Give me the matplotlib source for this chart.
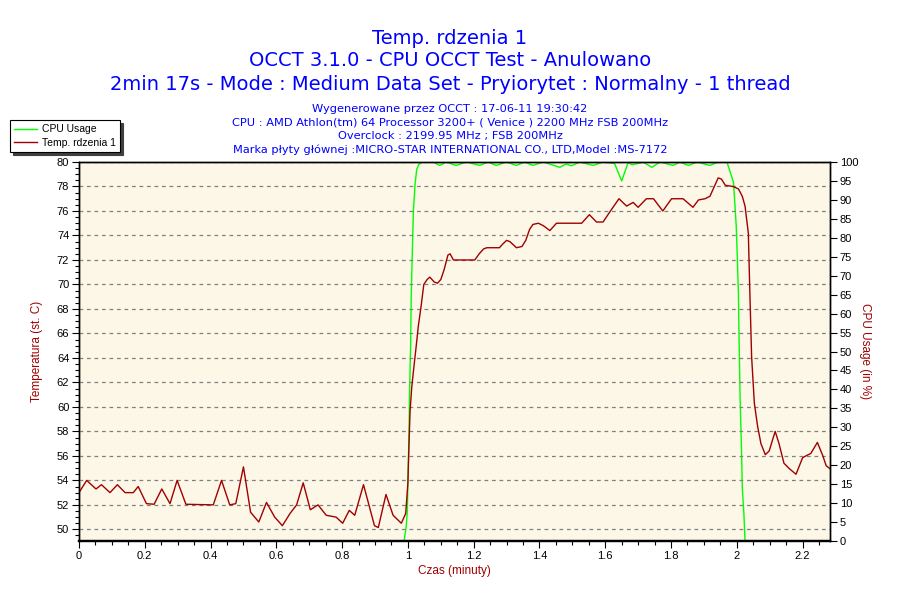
import matplotlib
matplotlib.use("Agg")
import matplotlib.pyplot as plt
from matplotlib.lines import Line2D
from matplotlib.ticker import MultipleLocator
import numpy as np

# temperature of core 1 (time in seconds, value in deg C)
temp_sec = [0.0, 1.4, 3.1, 4.1, 5.65, 7.0, 8.4, 9.9, 10.8, 12.3, 13.7, 15.1, 16.6, 17.9,
            19.5, 24.5, 26.0, 27.5, 28.6, 30.0, 31.3, 32.8, 34.2, 35.7, 37.1, 38.5, 39.7,
            40.9, 42.2, 43.6, 45.1, 46.9, 48.1, 49.3, 50.3, 51.9, 53.9, 54.6, 56.0, 57.3,
            58.8, 59.6, 60.0, 60.2, 60.4, 60.7, 61.1, 61.5, 61.9, 62.4, 62.9, 63.5, 64.0,
            64.8, 65.4, 66.0, 66.6, 67.3, 67.7, 68.3, 72.2, 73.0, 73.8, 74.4, 76.7, 77.3,
            78.0, 78.6, 79.8, 80.8, 81.5, 82.2, 82.8, 83.8, 84.7, 85.9, 87.1, 91.7, 93.1,
            94.4, 95.6, 96.8, 98.5, 99.9, 101.1, 102.0, 103.5, 104.8, 106.5, 108.1, 110.2,
            112.0, 113.0, 114.2, 115.1, 116.6, 117.2, 117.9, 119.3, 120.3, 121.0, 121.5,
            122.1, 122.4, 122.7, 123.2, 123.8, 124.4, 125.2, 125.9, 127.0, 127.7, 128.6,
            129.6, 130.8, 132.0, 132.6, 133.5, 134.7, 135.7, 136.3, 137.0]
temp_val = [53.0, 54.0, 53.3, 53.65, 53.0, 53.65, 53.0, 53.0, 53.5, 52.1, 52.05, 53.3, 52.1, 54.0,
            52.05, 52.0, 54.0, 52.0, 52.1, 55.1, 51.4, 50.6, 52.2, 51.0, 50.3, 51.3, 52.0,
            53.8, 51.6, 52.0, 51.15, 51.0, 50.5, 51.55, 51.15, 53.65, 50.3, 50.15, 52.85, 51.15,
            50.5, 51.3, 53.8, 57.0, 59.7, 61.6, 63.3, 64.9, 66.6, 68.2, 70.0, 70.4, 70.6,
            70.2, 70.1, 70.4, 71.2, 72.4, 72.5, 72.0, 72.0, 72.5, 72.9, 73.0, 73.0, 73.3,
            73.6, 73.5, 73.0, 73.1, 73.6, 74.5, 74.9, 75.0, 74.8, 74.4, 75.0, 75.0, 75.7,
            75.1, 75.1, 75.9, 77.0, 76.4, 76.7, 76.3, 77.0, 77.0, 76.0, 77.0, 77.0,
            76.3, 76.9, 77.0, 77.2, 78.7, 78.6, 78.1, 78.0, 77.8, 77.2, 76.4,
            74.2, 69.0, 64.1, 60.3, 58.4, 57.0, 56.1, 56.4, 58.0, 57.0, 55.4,
            54.95, 54.5, 55.85, 56.0, 56.2, 57.1, 56.0, 55.2, 54.95]

# cpu usage (%)
cpu_sec = [0.0, 59.3, 59.7, 59.9, 60.0, 60.2, 60.3, 60.5, 60.6, 60.8, 61.0, 61.3, 61.6, 62.0,
           62.7, 64.6, 65.8, 67.0, 68.8, 70.7, 73.1, 74.6, 76.1, 78.0, 79.8, 81.3, 82.8,
           84.7, 87.7, 88.9, 89.8, 91.4, 93.8, 95.6, 97.7, 99.0, 100.2, 100.8, 102.0, 102.9,
           104.5, 106.0, 108.4, 109.6, 111.2, 112.7, 115.1, 116.6, 118.2, 119.4, 119.9,
           120.1, 120.3, 120.4, 120.6, 120.85, 121.0, 121.3, 121.5, 137.0]
cpu_val = [0, 0, 4, 8, 16, 28, 39, 52, 64, 76, 87, 94, 98, 99.4,
           100, 100, 99.1, 100, 99.1, 100, 99.1, 100, 99.1, 100, 99.1, 100, 99.1,
           100, 98.6, 99.5, 99.0, 100, 99.1, 100, 99.6, 95.0, 100, 99.3, 99.6, 100,
           98.6, 100, 99.1, 100, 99.1, 100, 99.1, 100, 100, 94.6, 83,
           74.4, 64.8, 54.3, 37.7, 24.5, 14, 7, 0, 0]

title_lines = ["Temp. rdzenia 1",
               "OCCT 3.1.0 - CPU OCCT Test - Anulowano",
               "2min 17s - Mode : Medium Data Set - Pryiorytet : Normalny - 1 thread"]
info_lines = ["Wygenerowane przez OCCT : 17-06-11 19:30:42",
              "CPU : AMD Athlon(tm) 64 Processor 3200+ ( Venice ) 2200 MHz FSB 200MHz",
              "Overclock : 2199.95 MHz ; FSB 200MHz",
              "Marka płyty głównej :MICRO-STAR INTERNATIONAL CO., LTD,Model :MS-7172"]

RED = "#a00000"
GREEN = "#00ff00"
BLUE = "#0000ff"
plt.rcParams["font.family"] = ["Liberation Sans", "DejaVu Sans"]

fig = plt.figure(figsize=(9, 6), dpi=100, facecolor="white")
ax_cpu = fig.add_axes([79 / 900, 59 / 600, 751 / 900, 379 / 600])
ax = ax_cpu.twinx()
# temperature axis goes on the left, cpu on the right
ax.yaxis.tick_left()
ax.yaxis.set_label_position("left")
ax_cpu.yaxis.tick_right()
ax_cpu.yaxis.set_label_position("right")
ax_cpu.set_facecolor("#fdf7e7")

t_min = np.array(temp_sec) / 60
c_min = np.array(cpu_sec) / 60
ax_cpu.plot(c_min, cpu_val, color=GREEN, lw=1.0)
ax.plot(t_min, temp_val, color=RED, lw=1.0)

ax.set_xlim(0, 137 / 60)
ax.set_ylim(49.05, 80)
ax_cpu.set_ylim(0, 100)

ax.xaxis.set_major_locator(MultipleLocator(0.2))
ax.xaxis.set_minor_locator(MultipleLocator(0.05))
ax.yaxis.set_major_locator(MultipleLocator(2))
ax.yaxis.set_minor_locator(MultipleLocator(0.5))
ax_cpu.yaxis.set_major_locator(MultipleLocator(5))
ax_cpu.xaxis.set_major_locator(MultipleLocator(0.2))
ax_cpu.xaxis.set_minor_locator(MultipleLocator(0.05))
ax_cpu.xaxis.set_major_formatter(plt.FuncFormatter(lambda v, p: f"{v:g}"))

ax.grid(True, which="major", color="#808080", linestyle=(0, (3, 3)), lw=0.9)
for a in (ax, ax_cpu):
    a.tick_params(which="major", length=5, width=0.8, labelsize=8, direction="out", pad=2)
    a.tick_params(which="minor", length=3, width=0.8, direction="out")
    for s in a.spines.values():
        s.set_linewidth(1.0)
    # thicker bottom edge hides the idle (0 %) part of the cpu line, as in the original
    a.spines["bottom"].set_linewidth(1.6)
ax.tick_params(axis="x", labelbottom=False)

ax_cpu.set_xlabel("Czas (minuty)", color=RED, fontsize=8.5, labelpad=3)
ax.set_ylabel("Temperatura (st. C)", color=RED, fontsize=8.5, labelpad=10)
ax_cpu.set_ylabel("CPU Usage (in %)", color=RED, fontsize=8.5, rotation=270, labelpad=9)

for i, line in enumerate(title_lines):
    fig.text(0.5, 1 - (38 + 23 * i) / 600, line, ha="center", va="center",
             color=BLUE, fontsize=14, family="DejaVu Sans")
for i, line in enumerate(info_lines):
    fig.text(0.5, 1 - (109 + 13.7 * i) / 600, line, ha="center", va="center",
             color=BLUE, fontsize=8.2, family="DejaVu Sans")

handles = [Line2D([], [], color=GREEN, lw=1.0), Line2D([], [], color=RED, lw=1.0)]
leg = fig.legend(handles, ["CPU Usage", "Temp. rdzenia 1"], loc="upper left",
                 bbox_to_anchor=(10 / 900, 1 - 120 / 600), fontsize=7.5, frameon=True,
                 fancybox=False, shadow={"color": "#404040", "alpha": 1}, edgecolor="black",
                 framealpha=1, borderpad=0.4, labelspacing=0.35, handlelength=2.2,
                 handletextpad=0.5, borderaxespad=0)
leg.get_frame().set_linewidth(0.8)

fig.savefig("out.png", dpi=100, facecolor="white")
